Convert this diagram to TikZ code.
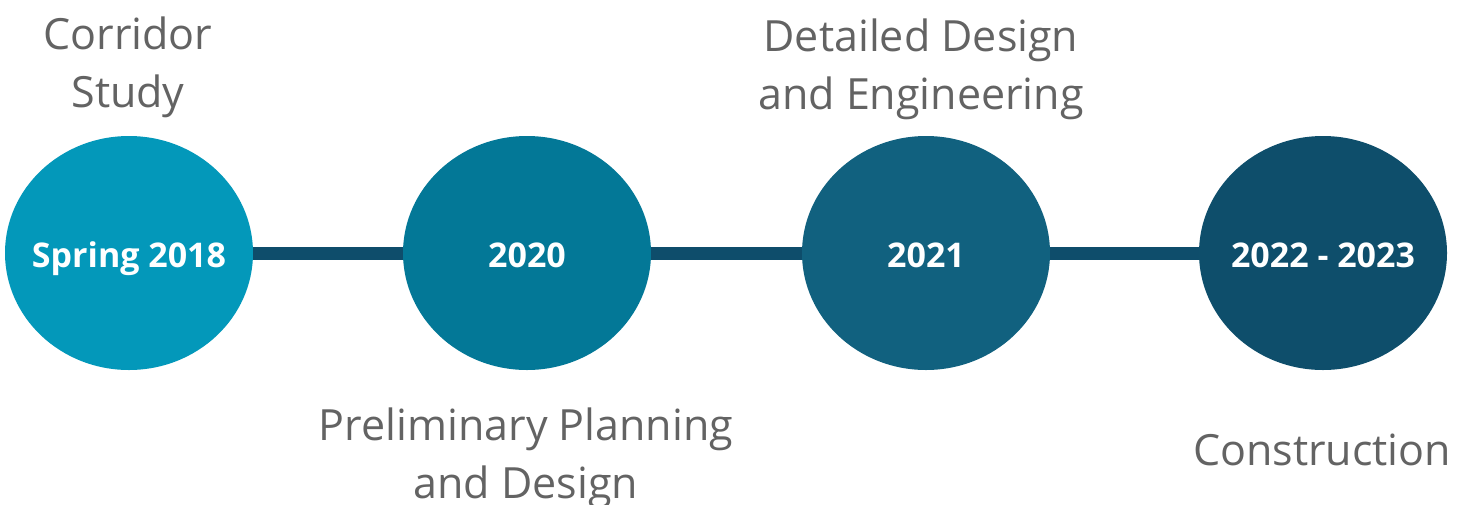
\documentclass[tikz,border=0pt]{standalone}
\usepackage{fontspec}
\setmainfont{Open Sans}
\usetikzlibrary{shapes.geometric}
\definecolor{stepA}{HTML}{0398BA}
\definecolor{stepB}{HTML}{037897}
\definecolor{stepC}{HTML}{11617F}
\definecolor{stepD}{HTML}{0E4E6B}
\definecolor{linkc}{HTML}{0E4D6B}
\definecolor{txtgray}{HTML}{636363}
\tikzset{
  year/.style={shape=ellipse,inner sep=0pt,minimum width=248pt,minimum height=234pt},
  yeartext/.style={text=white,inner sep=0pt,anchor=base,font=\fontsize{34}{40}\selectfont\bfseries},
  phase/.style={align=center,text=txtgray,font=\fontsize{43}{58}\selectfont},
  link/.style={draw=linkc,line width=13pt}
}

\begin{document}
\begin{tikzpicture}[x=1pt,y=-1pt]
\useasboundingbox (0,0) rectangle (1467,504);
% the four milestones
\node[year,fill=stepA] (y2018) at (129,253) {};
\node[year,fill=stepB] (y2020) at (527,253) {};
\node[year,fill=stepC] (y2021) at (926,253) {};
\node[year,fill=stepD] (y2022) at (1323,253) {};
\node[yeartext] at ([yshift=-14pt]y2018) {Spring 2018};
\node[yeartext] at ([yshift=-14pt]y2020) {2020};
\node[yeartext] at ([yshift=-14pt]y2021) {2021};
\node[yeartext] at ([yshift=-14pt]y2022) {2022 - 2023};
\draw[link] (y2018.east) -- (y2020.west);
\draw[link] (y2020.east) -- (y2021.west);
\draw[link] (y2021.east) -- (y2022.west);
% phase names, alternating above and below
\node[phase] (corridor) at (128,67) {Corridor\\Study};
\node[phase] (prelim) at (526,458) {Preliminary Planning\\and Design};
\node[phase] (detailed) at (921,69) {Detailed Design\\and Engineering};
\node[phase] (constr) at (1322,450) {Construction};
\end{tikzpicture}
\end{document}
